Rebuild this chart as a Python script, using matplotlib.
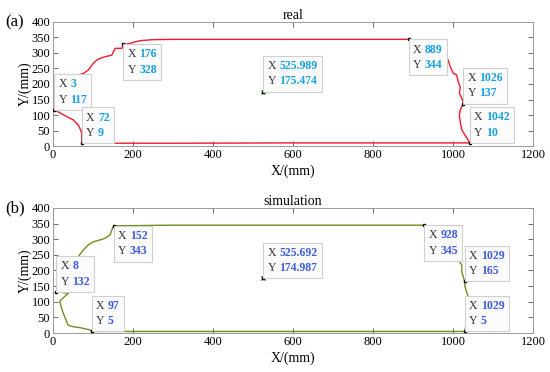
import matplotlib
matplotlib.use("Agg")
import matplotlib.pyplot as plt
from matplotlib.offsetbox import AnnotationBbox, HPacker, VPacker, TextArea

plt.rcParams["font.family"] = ["Liberation Serif", "DejaVu Serif"]

# ── trajectory data ───────────────────────────────────────────────────────────
REAL_X = [72, 300, 600, 900, 1042, 1038, 1030, 1022, 1018, 1016, 1018, 1026, 1022,
          1016, 1018, 1013, 1009, 1001, 993, 988, 980, 940, 889, 600, 300, 250, 220,
          205, 190, 176, 172, 155, 151, 147, 130, 118, 109, 101, 97, 92, 88, 76, 63,
          40, 15, 3, 17, 34, 51, 63, 69, 72, 72]
REAL_Y = [9, 9, 10, 10, 10, 19, 35, 52, 78, 100, 116, 137, 154, 170, 191, 207, 229,
          234, 256, 277, 288, 320, 344, 344, 344, 343, 340, 336, 330, 328, 315, 315,
          304, 293, 288, 283, 277, 267, 261, 251, 245, 234, 229, 190, 150, 117, 107,
          95, 84, 68, 52, 40, 9]

SIM_X = [97, 400, 800, 1029, 1035, 1040, 1038, 1034, 1030, 1029, 1022, 1022, 1013,
         990, 960, 928, 600, 300, 152, 147, 143, 130, 118, 101, 88, 76, 63, 40, 20, 8,
         20, 38, 30, 17, 22, 30, 38, 51, 68, 92, 97]
SIM_Y = [5, 5, 5, 5, 40, 80, 116, 132, 148, 165, 196, 218, 234, 280, 320, 345, 345,
         345, 343, 330, 314, 303, 298, 292, 282, 266, 244, 200, 160, 132, 130, 127,
         118, 102, 76, 49, 25, 20, 17, 10, 5]

# data tips: (x, y, label x, label y, box above the point?)
REAL_TIPS = [(3, 117, "3", "117", True), (72, 9, "72", "9", True),
             (176, 328, "176", "328", False), (889, 344, "889", "344", False),
             (1026, 137, "1026", "137", True), (1042, 10, "1042", "10", True)]
REAL_CENTER = (525.989, 175.474)

SIM_TIPS = [(8, 132, "8", "132", True), (97, 5, "97", "5", True),
            (152, 343, "152", "343", False), (928, 345, "928", "345", False),
            (1029, 165, "1029", "165", True), (1029, 5, "1029", "5", True)]
SIM_CENTER = (525.692, 174.987)

X_TICKS = [0, 200, 400, 600, 800, 1000, 1200]
Y_TICKS = [0, 50, 100, 150, 200, 250, 300, 350, 400]


def datatip(ax, x, y, sx, sy, above, num_color):
    fs = 8.5
    pad = 3.0  # points, frame padding around the text
    rows = []
    for name, val in (("X", sx), ("Y", sy)):
        rows.append(HPacker(children=[
            TextArea(name, textprops=dict(color="#333333", size=fs)),
            TextArea(val, textprops=dict(color=num_color, size=fs, weight="bold")),
        ], sep=2.5, pad=0, align="baseline"))
    box = VPacker(children=rows, sep=2.5, pad=0, align="left")
    off = (pad, pad) if above else (pad, -pad)
    ab = AnnotationBbox(box, (x, y), xybox=off, boxcoords="offset points",
                        box_alignment=(0, 0 if above else 1),
                        frameon=True, pad=pad / 10.0, fontsize=10,
                        bboxprops=dict(boxstyle="square", fc="#fbfbfb",
                                       ec="#cfcfcf", lw=0.8),
                        zorder=5)
    ax.add_artist(ab)
    ax.plot(x, y, "s", color="black", ms=1.6, zorder=4)


def style_axes(ax):
    ax.set_xlim(0, 1200)
    ax.set_ylim(0, 400)
    ax.set_xticks(X_TICKS)
    ax.set_yticks(Y_TICKS)
    ax.tick_params(direction="in", top=True, right=True, labelsize=9,
                   length=3.5, width=0.6, color="#555555", pad=2)
    for s in ax.spines.values():
        s.set_color("#9a9a9a")
        s.set_linewidth(0.7)
    ax.set_xlabel("X/(mm)", fontsize=10, labelpad=3)
    ax.set_ylabel("Y/(mm)", fontsize=10, labelpad=0)


fig = plt.figure(figsize=(5.5, 3.72), dpi=100)
ax1 = fig.add_axes([0.0964, 0.6075, 0.8727, 0.3334])
ax2 = fig.add_axes([0.0964, 0.1048, 0.8727, 0.3361])

# ── (a) real ──────────────────────────────────────────────────────────────────
ax1.plot(REAL_X, REAL_Y, color="#f0192e", lw=1.0, zorder=3)
ax1.plot(*REAL_CENTER, "x", color="#1fa01f", ms=3, mew=0.9, zorder=4)
for x, y, sx, sy, above in REAL_TIPS:
    datatip(ax1, x, y, sx, sy, above, "#17a0e0")
datatip(ax1, REAL_CENTER[0], REAL_CENTER[1], "525.989", "175.474", True, "#17a0e0")
style_axes(ax1)
ax1.set_title("real", fontsize=10, pad=2)
ax1.text(-0.099, 1.0, "(a)", transform=ax1.transAxes, fontsize=12, va="center")

# ── (b) simulation ────────────────────────────────────────────────────────────
ax2.plot(SIM_X, SIM_Y, color="#6e8f1e", lw=1.0, zorder=3)
ax2.plot(*SIM_CENTER, "x", color="#33461a", ms=3, mew=0.9, zorder=4)
for x, y, sx, sy, above in SIM_TIPS:
    datatip(ax2, x, y, sx, sy, above, "#3d5ce0")
datatip(ax2, SIM_CENTER[0], SIM_CENTER[1], "525.692", "174.987", True, "#3d5ce0")
style_axes(ax2)
ax2.set_title("simulation", fontsize=10, pad=2)
ax2.text(-0.099, 1.0, "(b)", transform=ax2.transAxes, fontsize=12, va="center")

fig.savefig("out.png", dpi=100)
